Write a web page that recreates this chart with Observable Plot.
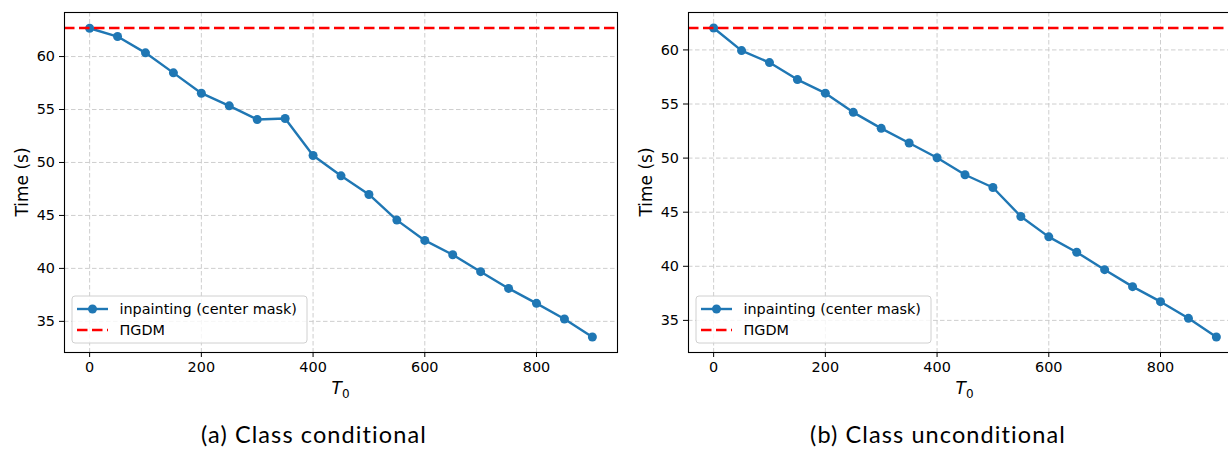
<!DOCTYPE html>
<html><head><meta charset="utf-8">
<script src="https://cdn.jsdelivr.net/npm/d3@7"></script>
<script src="https://cdn.jsdelivr.net/npm/@observablehq/plot@0.6"></script>
<style>
html,body{margin:0;padding:0;background:#fff;width:1228px;height:449px;overflow:hidden;}
#wrap{position:relative;width:1228px;height:449px;overflow:hidden;}
.panel{position:absolute;top:0;width:620px;height:400px;}
.panel svg{max-width:none !important;}
.cap{position:absolute;top:419px;font-family:Lato,"DejaVu Sans",sans-serif;font-size:23.5px;letter-spacing:1.1px;text-align:center;color:#000;line-height:30px;}
</style></head><body>
<div id="wrap">
 <div class="panel" id="pa" style="left:0"></div>
 <div class="panel" id="pb" style="left:624px"></div>
 <div class="cap" id="capa" style="left:0;width:628px"></div>
 <div class="cap" id="capb" style="left:628px;width:620px"></div>
</div>
<script>
// ---- data ----
const t0 = [0, 50, 100, 150, 200, 250, 300, 350, 400, 450, 500, 550, 600, 650, 700, 750, 800, 850, 900];
const timeConditional = [62.67, 61.89, 60.35, 58.46, 56.54, 55.35, 54.06, 54.15, 50.66, 48.74, 46.98, 44.56, 42.64, 41.29, 39.69, 38.11, 36.70, 35.22, 33.52];
const timeUnconditional = [62.03, 59.94, 58.83, 57.26, 56.00, 54.23, 52.75, 51.40, 50.03, 48.46, 47.28, 44.60, 42.72, 41.30, 39.69, 38.12, 36.73, 35.19, 33.46];
const pigdmConditional = 62.7;
const pigdmUnconditional = 62.03;
const xTicks = [0, 200, 400, 600, 800];
const yTicks = [35, 40, 45, 50, 55, 60];
const seriesName = "inpainting (center mask)";
const baselineName = "\u03A0GDM";
const yLabel = "Time (s)";
const captionA = "(a) Class conditional";
const captionB = "(b) Class unconditional";

const BLUE = "#1f77b4";
const RED = "#ff0000";
const FONT = "DejaVu Sans";

function pad(lo, hi) { const m = (hi - lo) * 0.05; return [lo - m, hi + m]; }

function panel(times, pigdm) {
  const rows = t0.map((x, i) => ({x, y: times[i]}));
  const ext = d3.extent([...times, pigdm]);
  const plot = Plot.plot({
    width: 620, height: 400,
    marginLeft: 64, marginRight: 3, marginTop: 12, marginBottom: 48,
    style: {fontFamily: FONT, fontSize: "14.4px", color: "#000", background: "transparent", maxWidth: "none"},
    x: {domain: pad(0, 900)},
    y: {domain: pad(ext[0], ext[1])},
    marks: [
      Plot.gridX(xTicks, {stroke: "#c8c8c8", strokeOpacity: 1, strokeWidth: 0.9, strokeDasharray: "4.5,2.5"}),
      Plot.gridY(yTicks, {stroke: "#c8c8c8", strokeOpacity: 1, strokeWidth: 0.9, strokeDasharray: "4.5,2.5"}),
      Plot.axisX({ticks: xTicks, tickSize: 5, tickPadding: 4, fontSize: 14.4, label: null}),
      Plot.axisY({ticks: yTicks, tickSize: 5, tickPadding: 4.5, fontSize: 14.4, label: null}),
      Plot.line(rows, {x: "x", y: "y", stroke: BLUE, strokeWidth: 2.4}),
      Plot.dot(rows, {x: "x", y: "y", r: 4.5, fill: BLUE, stroke: "none"}),
      Plot.ruleY([pigdm], {stroke: RED, strokeWidth: 2.6, strokeDasharray: "10.5,4.5"}),
      Plot.frame({stroke: "#000", strokeWidth: 1.1})
    ]
  });
  const svg = d3.select(plot);
  const xr = plot.scale("x").range;
  const yr = plot.scale("y").range;
  const cx = (xr[0] + xr[1]) / 2;
  // x label T_0
  const tl = svg.append("text").attr("x", cx).attr("y", 394).attr("text-anchor", "middle")
    .attr("font-family", FONT).attr("font-size", 17).attr("fill", "#000");
  tl.append("tspan").attr("font-style", "italic").text("T");
  tl.append("tspan").attr("font-size", 12).attr("dy", 3.5).text("0");
  // y label
  svg.append("text").attr("transform", `translate(28,${(yr[0] + yr[1]) / 2}) rotate(-90)`)
    .attr("text-anchor", "middle").attr("font-family", FONT).attr("font-size", 17).attr("fill", "#000")
    .text(yLabel);
  // legend
  const g = svg.append("g").attr("transform", "translate(72,296)").attr("text-anchor", "start");
  g.append("rect").attr("width", 235).attr("height", 47).attr("rx", 3)
    .attr("fill", "#fff").attr("fill-opacity", 0.8).attr("stroke", "#d0d0d0").attr("stroke-width", 1);
  g.append("line").attr("x1", 5).attr("x2", 36).attr("y1", 13).attr("y2", 13)
    .attr("stroke", BLUE).attr("stroke-width", 2.4);
  g.append("circle").attr("cx", 20.5).attr("cy", 13).attr("r", 4.5).attr("fill", BLUE);
  g.append("text").attr("x", 47.5).attr("y", 18.2).attr("text-anchor", "start").attr("font-family", FONT).attr("font-size", 14.4)
    .attr("fill", "#000").text(seriesName);
  g.append("line").attr("x1", 5).attr("x2", 36).attr("y1", 34).attr("y2", 34)
    .attr("stroke", RED).attr("stroke-width", 2.6).attr("stroke-dasharray", "10.5,4.5");
  g.append("text").attr("x", 47.5).attr("y", 39.2).attr("text-anchor", "start").attr("font-family", FONT).attr("font-size", 14.4)
    .attr("fill", "#000").text(baselineName);
  return plot;
}

document.getElementById("pa").appendChild(panel(timeConditional, pigdmConditional));
document.getElementById("pb").appendChild(panel(timeUnconditional, pigdmUnconditional));
document.getElementById("capa").textContent = captionA;
document.getElementById("capb").textContent = captionB;
</script>
</body></html>
